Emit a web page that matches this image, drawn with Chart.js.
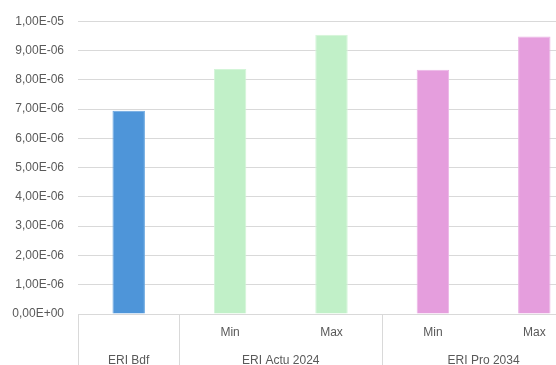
<!DOCTYPE html>
<html>
<head>
<meta charset="utf-8">
<script src="https://cdn.jsdelivr.net/npm/chart.js@4/dist/chart.umd.min.js"></script>
<style>
  html, body { margin: 0; padding: 0; background: #ffffff; overflow: hidden; }
  #wrap { position: relative; width: 586px; height: 365px; }
</style>
</head>
<body>
<div id="wrap"><canvas id="c"></canvas></div>
<script>
// Inner category labels (second row of the axis) and their values
const innerLabels = ['', 'Min', 'Max', 'Min', 'Max'];
const values = [6.94e-6, 8.37e-6, 9.54e-6, 8.34e-6, 9.48e-6];
// Outer group labels and how many inner categories each spans
const groupLabels = ['ERI Bdf', 'ERI Actu 2024', 'ERI Pro 2034'];
const groupSizes = [1, 2, 2];
// Y axis range
const yMin = 0;
const yMax = 1e-5;
const yStep = 1e-6;

const barColors = ['#4E95D9', '#C1F0C8', '#C1F0C8', '#E59EDD', '#E59EDD'];
const barEdges = ['#6aa7e0', '#d3f5d8', '#d3f5d8', '#ecb5e6', '#ecb5e6'];
const textColor = '#595959';
const lineColor = '#d9d9d9';
const fontFamily = '"Liberation Sans", Arial, sans-serif';

// Excel-like scientific format with a decimal comma: 1,00E-05
function sci(v) {
  if (Math.abs(v) < 1e-20) return '0,00E+00';
  const s = v.toExponential(2);
  const [m, e] = s.split('e');
  const ex = parseInt(e, 10);
  const sign = ex < 0 ? '-' : '+';
  const abs = String(Math.abs(ex)).padStart(2, '0');
  return m.replace('.', ',') + 'E' + sign + abs;
}

// Draws the two-level category axis under the plot
const multiLevelAxis = {
  id: 'multiLevelAxis',
  afterDraw(chart) {
    const ctx = chart.ctx;
    const x = chart.scales.x;
    const area = chart.chartArea;
    const n = innerLabels.length;
    const half = (x.getPixelForValue(1) - x.getPixelForValue(0)) / 2;
    const bottom = chart.height;
    ctx.save();
    ctx.strokeStyle = lineColor;
    ctx.lineWidth = 1;
    ctx.fillStyle = textColor;
    ctx.font = '12px ' + fontFamily;
    ctx.textAlign = 'center';
    ctx.textBaseline = 'middle';
    // inner labels
    for (let i = 0; i < n; i++) {
      if (innerLabels[i]) ctx.fillText(innerLabels[i], x.getPixelForValue(i), area.bottom + 19);
    }
    // group labels and separators
    let start = 0;
    const seps = [Math.round(x.getPixelForValue(0) - half) + 0.5];
    groupSizes.forEach((size, g) => {
      const first = x.getPixelForValue(start);
      const last = x.getPixelForValue(start + size - 1);
      ctx.fillText(groupLabels[g], (first + last) / 2, area.bottom + 47);
      seps.push(Math.round(last + half) + 0.5);
      start += size;
    });
    seps.forEach(px => {
      ctx.beginPath();
      ctx.moveTo(px, area.bottom);
      ctx.lineTo(px, bottom);
      ctx.stroke();
    });
    ctx.restore();
  }
};

new Chart(document.getElementById('c'), {
  type: 'bar',
  data: {
    labels: innerLabels.map((l, i) => l || groupLabels[0]),
    datasets: [{
      data: values,
      backgroundColor: barColors,
      borderColor: barEdges,
      borderWidth: 1,
      barPercentage: 0.32,
      categoryPercentage: 1.0
    }]
  },
  options: {
    responsive: true,
    maintainAspectRatio: false,
    animation: false,
    devicePixelRatio: 1,
    layout: { padding: { top: 21, bottom: 51, right: 1, left: 0 } },
    plugins: {
      legend: { display: false },
      tooltip: { enabled: false }
    },
    scales: {
      x: {
        display: false,
        grid: { display: false }
      },
      y: {
        min: yMin,
        max: yMax,
        border: { display: false },
        grid: { color: lineColor, lineWidth: 1, drawTicks: false },
        ticks: {
          stepSize: yStep,
          color: textColor,
          padding: 14,
          font: { size: 12, family: fontFamily },
          callback: v => sci(v)
        },
        afterFit(scale) { scale.width = 78; }
      }
    }
  },
  plugins: [multiLevelAxis]
});
</script>
</body>
</html>
